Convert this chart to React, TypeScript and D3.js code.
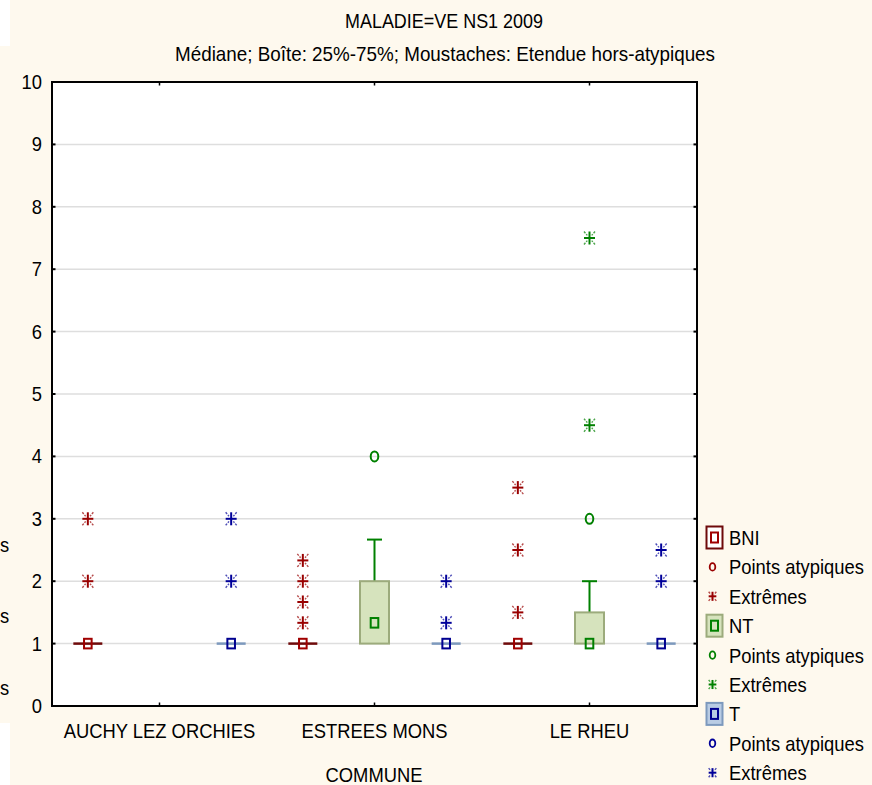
import React from "react";
import * as d3 from "d3";

const categories = ["AUCHY LEZ ORCHIES", "ESTREES MONS", "LE RHEU"];
const seriesNames = ["BNI", "NT", "T"];

// per series, per category
const bniMedian = [1, 1, 1];
const bniQ1 = [1, 1, 1];
const bniQ3 = [1, 1, 1];
const bniMin = [1, 1, 1];
const bniMax = [1, 1, 1];
const bniOutliers: number[][] = [[], [], []];
const bniExtremes: number[][] = [[2, 3], [1.333, 1.667, 2, 2.333], [1.5, 2.5, 3.5]];

const ntMedian = [null, 1.333, 1];
const ntQ1 = [null, 1, 1];
const ntQ3 = [null, 2, 1.5];
const ntMin = [null, 1, 1];
const ntMax = [null, 2.667, 2];
const ntOutliers: number[][] = [[], [4], [3]];
const ntExtremes: number[][] = [[], [], [4.5, 7.5]];

const tMedian = [1, 1, 1];
const tQ1 = [1, 1, 1];
const tQ3 = [1, 1, 1];
const tMin = [1, 1, 1];
const tMax = [1, 1, 1];
const tOutliers: number[][] = [[], [], []];
const tExtremes: number[][] = [[2, 3], [1.333, 2], [2, 2.5]];

const yTicks = [0, 1, 2, 3, 4, 5, 6, 7, 8, 9, 10];

const titleText = "MALADIE=VE NS1 2009";
const subtitleText = "Médiane; Boîte: 25%-75%; Moustaches: Etendue hors-atypiques";
const xAxisTitle = "COMMUNE";
const legendLabels = ["BNI", "Points atypiques", "Extrêmes", "NT", "Points atypiques", "Extrêmes", "T", "Points atypiques", "Extrêmes"];
const edgeRemnants = ["s", "s", "s"];

const styles: Record<string, any> = {
  BNI: { boxFill: "#ffffff", boxStroke: "#6e0a0a", marker: "#a00000", whisker: "#8b0000", point: "#990000" },
  NT: { boxFill: "#d6e3bd", boxStroke: "#9cab7c", marker: "#008000", whisker: "#008000", point: "#008000" },
  T: { boxFill: "#b9cce4", boxStroke: "#7d99bd", marker: "#000090", whisker: "#000090", point: "#000099" },
};

const seriesData: Record<string, any> = {
  BNI: { median: bniMedian, q1: bniQ1, q3: bniQ3, min: bniMin, max: bniMax, outliers: bniOutliers, extremes: bniExtremes },
  NT: { median: ntMedian, q1: ntQ1, q3: ntQ3, min: ntMin, max: ntMax, outliers: ntOutliers, extremes: ntExtremes },
  T: { median: tMedian, q1: tQ1, q3: tQ3, min: tMin, max: tMax, outliers: tOutliers, extremes: tExtremes },
};

const W = 872;
const H = 785;
const left = 52, right = 697, top = 82, bottom = 706;
const SX = 0.92;
const FONT = "'Liberation Sans', Arial, sans-serif";

function T({ x, y, anchor = "start", size = 20, children, len }: any) {
  return (
    <text
      transform={`translate(${x},${y}) scale(${SX},1)`}
      textAnchor={anchor}
      fontSize={size}
      fontFamily={FONT}
      fill="#000"
      {...(len ? { textLength: len / SX, lengthAdjust: "spacingAndGlyphs" } : {})}
    >
      {children}
    </text>
  );
}

function Asterisk({ x, y, color, s = 1 }: any) {
  const hw = 5.5 * s, hh = 6.5 * s;
  return (
    <g stroke={color} fill="none">
      <line x1={x} y1={y - hh} x2={x} y2={y + hh} strokeWidth={2} />
      <line x1={x - hw} y1={y} x2={x + hw} y2={y} strokeWidth={2} />
      <g strokeWidth={1.4} opacity={0.7}>
        <line x1={x - hw} y1={y - hh} x2={x - hw * 0.4} y2={y - hh * 0.4} strokeDasharray="2.2,1.2" />
        <line x1={x + hw} y1={y - hh} x2={x + hw * 0.4} y2={y - hh * 0.4} strokeDasharray="2.2,1.2" />
        <line x1={x - hw} y1={y + hh} x2={x - hw * 0.4} y2={y + hh * 0.4} strokeDasharray="2.2,1.2" />
        <line x1={x + hw} y1={y + hh} x2={x + hw * 0.4} y2={y + hh * 0.4} strokeDasharray="2.2,1.2" />
      </g>
    </g>
  );
}

export default function App() {
  const x = d3.scaleBand().domain(categories).range([left, right]);
  const xs = d3.scaleBand().domain(seriesNames).range([-x.bandwidth() / 2, x.bandwidth() / 2]);
  const y = d3.scaleLinear().domain([0, 10]).range([bottom, top]);
  const boxW = 29;
  const capW = 15;

  const marks: any[] = [];
  seriesNames.forEach((s) => {
    const d = seriesData[s];
    const st = styles[s];
    categories.forEach((c, i) => {
      if (d.median[i] == null) return;
      const cx = (x(c) as number) + x.bandwidth() / 2 + (xs(s) as number) + xs.bandwidth() / 2;
      const yq1 = y(d.q1[i]);
      const yq3 = y(d.q3[i]);
      const key = `${s}-${i}`;
      if (d.max[i] > d.q3[i]) {
        marks.push(
          <g key={key + "wh"} stroke={st.whisker} strokeWidth={2}>
            <line x1={cx} x2={cx} y1={yq3} y2={y(d.max[i])} />
            <line x1={cx - capW / 2} x2={cx + capW / 2} y1={y(d.max[i])} y2={y(d.max[i])} />
          </g>
        );
      }
      if (d.min[i] < d.q1[i]) {
        marks.push(
          <g key={key + "wl"} stroke={st.whisker} strokeWidth={2}>
            <line x1={cx} x2={cx} y1={yq1} y2={y(d.min[i])} />
            <line x1={cx - capW / 2} x2={cx + capW / 2} y1={y(d.min[i])} y2={y(d.min[i])} />
          </g>
        );
      }
      if (yq1 - yq3 > 0.5) {
        marks.push(
          <rect key={key + "b"} x={cx - boxW / 2} y={yq3} width={boxW} height={yq1 - yq3} fill={st.boxFill} stroke={st.boxStroke} strokeWidth={2} />
        );
      } else {
        marks.push(
          <line key={key + "b"} x1={cx - boxW / 2} x2={cx + boxW / 2} y1={yq1} y2={yq1} stroke={st.boxStroke} strokeWidth={2.5} />
        );
      }
      const ym = y(d.median[i]);
      marks.push(
        <rect key={key + "m"} x={cx - 3.8} y={ym - 4.8} width={7.6} height={9.6} fill="none" stroke={st.marker} strokeWidth={2} />
      );
      d.outliers[i].forEach((v: number, j: number) => {
        marks.push(<ellipse key={key + "o" + j} cx={cx} cy={y(v)} rx={3.8} ry={5} fill="none" stroke={st.point} strokeWidth={2} />);
      });
      d.extremes[i].forEach((v: number, j: number) => {
        marks.push(<Asterisk key={key + "e" + j} x={cx} y={y(v)} color={st.point} />);
      });
    });
  });

  const legX = 714.5;
  const legTextX = 729;
  const legBase = 545;
  const legStep = 29.4;
  const legendItems = legendLabels.map((lab, i) => {
    const s = seriesNames[Math.floor(i / 3)];
    const st = styles[s];
    const kind = i % 3;
    const baseline = legBase + i * legStep;
    const cy = baseline - 7.5;
    let sym: any;
    if (kind === 0) {
      sym = (
        <g>
          <rect x={legX - 8} y={cy - 11} width={16} height={22} fill={st.boxFill} stroke={st.boxStroke} strokeWidth={2} />
          <rect x={legX - 3.5} y={cy - 5} width={7} height={10} fill="none" stroke={st.marker} strokeWidth={2} />
        </g>
      );
    } else if (kind === 1) {
      sym = <ellipse cx={legX - 2} cy={cy} rx={2.8} ry={3.8} fill="none" stroke={st.point} strokeWidth={1.8} />;
    } else {
      sym = <Asterisk x={legX - 2} y={cy} color={st.point} s={0.7} />;
    }
    return (
      <g key={"leg" + i}>
        {sym}
        <T x={legTextX} y={baseline}>{lab}</T>
      </g>
    );
  });

  const remnantY = [552, 623, 695];

  return (
    <svg width={W} height={H} style={{ position: "absolute", left: 0, top: 0 }} xmlns="http://www.w3.org/2000/svg">
      <rect x={0} y={0} width={W} height={H} fill="#fef9ee" />
      <rect x={0} y={0} width={10} height={46} fill="#ffffff" />
      <rect x={0} y={723} width={10} height={62} fill="#ffffff" />
      {edgeRemnants.map((r, i) => (
        <T key={"r" + i} x={0} y={remnantY[i]}>{r}</T>
      ))}

      <T x={444} y={28} anchor="middle" len={198}>{titleText}</T>
      <T x={445} y={61} anchor="middle" len={540}>{subtitleText}</T>

      <rect x={left} y={top} width={right - left} height={bottom - top} fill="#ffffff" />
      {yTicks.filter((t) => t > 0 && t < 10).map((t) => (
        <line key={"g" + t} x1={left} x2={right} y1={y(t)} y2={y(t)} stroke="#dedede" strokeWidth={1.5} />
      ))}
      {marks}
      <rect x={left} y={top} width={right - left} height={bottom - top} fill="none" stroke="#000" strokeWidth={2} />
      {yTicks.map((t) => (
        <g key={"yt" + t}>
          <line x1={left} x2={left + 3.5} y1={y(t)} y2={y(t)} stroke="#000" strokeWidth={2} />
          <line x1={right - 3.5} x2={right} y1={y(t)} y2={y(t)} stroke="#000" strokeWidth={2} />
          <T x={42} y={y(t) + 7} anchor="end">{String(t)}</T>
        </g>
      ))}
      {categories.map((c) => {
        const cx = (x(c) as number) + x.bandwidth() / 2;
        return (
          <g key={"xt" + c}>
            <line x1={cx} x2={cx} y1={bottom} y2={bottom - 3.5} stroke="#000" strokeWidth={1.5} />
            <line x1={cx} x2={cx} y1={top} y2={top + 3.5} stroke="#000" strokeWidth={1.5} />
            <T x={cx} y={738} anchor="middle">{c}</T>
          </g>
        );
      })}
      <T x={374} y={782} anchor="middle">{xAxisTitle}</T>
      {legendItems}
    </svg>
  );
}
